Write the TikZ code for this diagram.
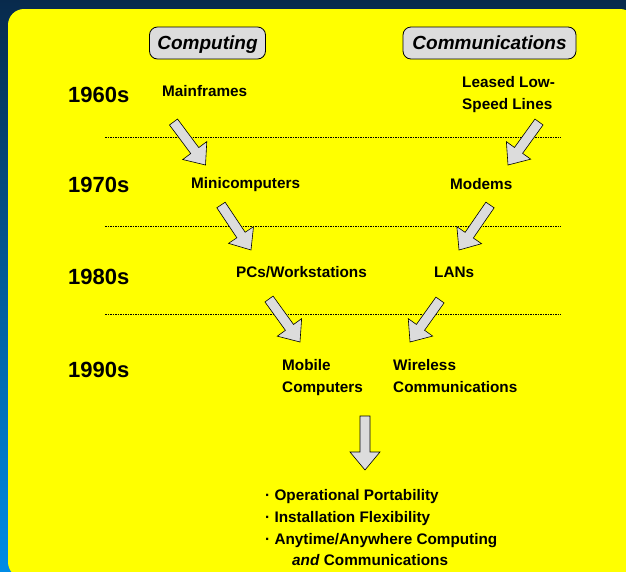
\documentclass[tikz,border=0pt]{standalone}
\usepackage{fontspec}
\setmainfont{Liberation Sans}
\usetikzlibrary{calc}
\definecolor{bgtop}{RGB}{8,42,76}
\definecolor{bgbot}{RGB}{0,140,230}
\definecolor{boxgray}{RGB}{220,220,220}
\definecolor{hiyellow}{RGB}{255,255,0}
\tikzset{
  era/.style={anchor=base west, inner sep=0pt, font=\fontsize{22}{26}\selectfont\bfseries},
  lbl/.style={anchor=base west, inner sep=0pt, font=\fontsize{15.3}{18}\selectfont\bfseries},
  head/.style={draw=black, line width=0.8pt, fill=boxgray, rounded corners=8pt, inner sep=0pt,
    minimum height=32pt, text height=14pt, text depth=0.5pt,
    font=\fontsize{19}{22}\selectfont\bfseries\itshape},
  sepline/.style={dash pattern=on 1.5pt off 1pt, line width=0.6pt},
  blk/.style={draw=black, line width=0.6pt, fill=boxgray, line join=miter},
}
\newcommand\blockarrow[2]{%
  \path let \p1=($(#2)-(#1)$) in \pgfextra{%
    \pgfmathsetmacro\bal{veclen(\x1,\y1)}%
    \pgfmathsetmacro\baa{atan2(\y1,\x1)}%
    \global\let\barlen\bal\global\let\barang\baa};
  \draw[blk, shift={(#1)}, rotate=\barang]
    (0,-5) -- (\barlen-18,-5) -- (\barlen-18,-15) -- (\barlen,0)
    -- (\barlen-18,15) -- (\barlen-18,5) -- (0,5) -- cycle;}
\begin{document}
\begin{tikzpicture}[x=1pt, y=-1pt]
\useasboundingbox (0,0) rectangle (626,571);
\shade[top color=bgtop, bottom color=bgbot] (0,0) rectangle (626,571);
\fill[hiyellow, rounded corners=16pt] (8,9) rectangle (636,578);

% headers
\node[head, minimum width=116pt] (comp) at (207.5,43) {Computing};
\node[head, minimum width=173pt] (comm) at (489.5,43) {Communications};

% eras
\node[era] (e60) at (68,102) {1960s};
\node[era] (e70) at (68,192) {1970s};
\node[era] (e80) at (68,284) {1980s};
\node[era] (e90) at (68,377) {1990s};

% separators
\coordinate (d1w) at (105,137); \coordinate (d1e) at (561,137);
\coordinate (d2w) at (105,226); \coordinate (d2e) at (561,226);
\coordinate (d3w) at (105,314); \coordinate (d3e) at (561,314);
\draw[sepline] (d1w) -- (d1e);
\draw[sepline] (d2w) -- (d2e);
\draw[sepline] (d3w) -- (d3e);

% labels
\node[lbl] (main) at (162,96) {Mainframes};
\node[lbl] (lease1) at (462,87) {Leased Low-};
\node[lbl] (lease2) at (462,109) {Speed Lines};
\node[lbl] (mini) at (191,188) {Minicomputers};
\node[lbl] (modem) at (450,189) {Modems};
\node[lbl] (pcs) at (236,277) {PCs/Workstations};
\node[lbl] (lans) at (434,277) {LANs};
\node[lbl] (mob1) at (282,370) {Mobile};
\node[lbl] (mob2) at (282,392) {Computers};
\node[lbl] (wir1) at (393,370) {Wireless};
\node[lbl] (wir2) at (393,392) {Communications};

% results
\node[lbl] (r1) at (265,500) {· Operational Portability};
\node[lbl] (r2) at (265,522) {· Installation Flexibility};
\node[lbl] (r3) at (265,544) {· Anytime/Anywhere Computing};
\node[lbl] (r4) at (292,565) {\textit{and} Communications};

% arrow ends
\coordinate (a1t) at (173.5,122); \coordinate (a1h) at (205.5,165);
\coordinate (a2t) at (221,205);   \coordinate (a2h) at (251,250);
\coordinate (a3t) at (539,122);   \coordinate (a3h) at (508,165);
\coordinate (a4t) at (490,205);   \coordinate (a4h) at (459,250);
\coordinate (a5t) at (269,299);   \coordinate (a5h) at (300,342);
\coordinate (a6t) at (440,300);   \coordinate (a6h) at (410,342);
\coordinate (a7t) at (365,416);   \coordinate (a7h) at (365,470);
\blockarrow{a1t}{a1h}
\blockarrow{a2t}{a2h}
\blockarrow{a3t}{a3h}
\blockarrow{a4t}{a4h}
\blockarrow{a5t}{a5h}
\blockarrow{a6t}{a6h}
\blockarrow{a7t}{a7h}
\end{tikzpicture}
\end{document}
